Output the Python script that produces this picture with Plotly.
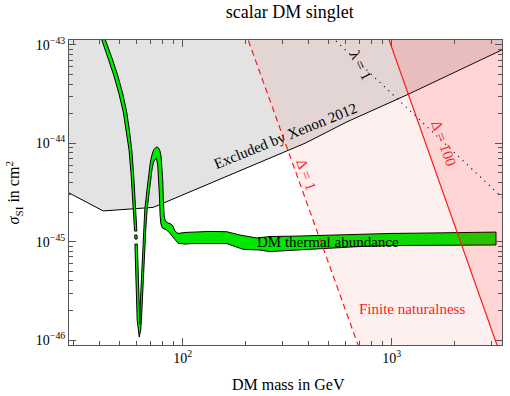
import math

import plotly.graph_objects as go

# axis limits: DM mass (GeV), sigma_SI (cm^2)
x_lim = [28.6, 3370]
y_lim = [8.9e-47, 1.12e-43]

# Xenon 2012 exclusion boundary (region above is excluded)
xenon_mass = [28, 41.7, 72.3, 210, 385, 611, 1183, 3500]
xenon_sigma = [3.2e-45, 2.05e-45, 2.23e-45, 5.87e-45, 1.0e-44, 1.65e-44, 3.1e-44, 9.24e-44]

# finite naturalness lines and lambda = 1
delta1_mass = [142, 1000]
delta1_sigma = [1e-42, 1e-47]
delta100_mass = [675, 4590]
delta100_sigma = [1e-42, 1e-47]
lambda1_mass = [179, 5000]
lambda1_sigma = [1e-42, 1.28e-45]

# DM thermal abundance band, (mass GeV, sigma in 1e-45 cm^2)
# piece above the small gap: right edge, left edge (top -> bottom)
band_a_upper = [(41.3, 142), (42.7, 112.4), (45.9, 73.8), (49.0, 48.4), (51.75, 31.7), (54.0, 20.8),
                (55.6, 13.65), (57.1, 8.55), (58.3, 4.76), (59.4, 2.65), (60.25, 1.48), (60.4, 1.28)]
band_a_lower = [(39.5, 142), (40.9, 112.4), (43.9, 73.8), (46.9, 48.4), (49.6, 31.7), (52.0, 20.8),
                (53.8, 13.65), (55.4, 8.55), (56.7, 4.76), (57.9, 2.65), (58.7, 1.48), (58.9, 1.28)]
band_dash = [(59.0, 1.167), (60.5, 1.167), (60.6, 1.063), (59.1, 1.063)]
# main piece: upper edge (left -> right), lower edge (right -> left)
band_b_upper = [(60.7, 0.945), (60.8, 0.821), (61.2, 0.514), (61.7, 0.255), (62.1, 0.179), (62.4, 0.145),
                (62.8, 0.255), (63.4, 0.407), (63.9, 0.650), (64.3, 0.821), (64.9, 1.31), (65.9, 2.10),
                (67.5, 3.35), (69.2, 5.35), (70.1, 6.45), (71.3, 7.60), (72.6, 8.55), (74.1, 9.00),
                (75.3, 9.17), (76.7, 8.96), (77.9, 8.35), (78.9, 7.25), (79.6, 6.01), (80.3, 4.23),
                (80.9, 2.65), (81.6, 1.82), (82.6, 1.62), (85.0, 1.55), (87.9, 1.51), (89.9, 1.44),
                (91.9, 1.28), (95.0, 1.21), (102.6, 1.24), (112, 1.25), (135.1, 1.27), (162.9, 1.26),
                (188, 1.167), (226.7, 1.088), (261.7, 1.127), (364.1, 1.14), (506.8, 1.167),
                (705.3, 1.195), (981.4, 1.21), (1366, 1.22), (1901, 1.24), (2645, 1.25), (3155, 1.25)]
band_b_lower = [(3155, 0.924), (2645, 0.924), (1901, 0.924), (1366, 0.917), (981.4, 0.913), (705.3, 0.892),
                (506.8, 0.861), (364.1, 0.821), (261.7, 0.793), (234.3, 0.821), (194.3, 0.835), (162.9, 0.956),
                (135.1, 0.961), (112, 0.956), (102.6, 0.945), (95.3, 0.961), (91.9, 1.05), (88.9, 1.167),
                (86.9, 1.22), (83.8, 1.31), (80.0, 1.375), (78.7, 1.51), (78.0, 1.87), (77.4, 2.98),
                (76.7, 4.76), (76.0, 6.01), (74.9, 7.00), (73.7, 6.84), (72.6, 6.45), (71.3, 5.35),
                (69.4, 3.35), (67.6, 2.10), (66.6, 1.31), (66.0, 0.821), (65.7, 0.650), (65.1, 0.407),
                (64.5, 0.255), (63.5, 0.159), (63.0, 0.126), (62.0, 0.107), (60.6, 0.159), (60.1, 0.255),
                (59.6, 0.514), (59.3, 0.821), (59.1, 0.945)]

x_ticks = [100, 1000]
x_ticktext = ["10<sup>2</sup>", "10<sup>3</sup>"]
y_ticks = [1e-46, 1e-45, 1e-44, 1e-43]
y_ticktext = ["10<sup>\u221246</sup>", "10<sup>\u221245</sup>", "10<sup>\u221244</sup>", "10<sup>\u221243</sup>"]

FONT = "Liberation Serif"
RED = "#ff1a1a"
sky = 1e-41
far_right = 1e4


def split(pts):
    return [p[0] for p in pts], [p[1] * 1e-45 for p in pts]


fig = go.Figure()

# excluded by Xenon 2012
fig.add_trace(go.Scatter(x=xenon_mass + [xenon_mass[-1], xenon_mass[0]],
                         y=xenon_sigma + [sky, sky], fill="toself", fillcolor="#e3e3e3",
                         line=dict(width=0), mode="lines", hoverinfo="skip"))
fig.add_trace(go.Scatter(x=xenon_mass, y=xenon_sigma, mode="lines",
                         line=dict(color="black", width=1)))

# thermal abundance band
for pts in (band_a_upper + band_a_lower[::-1], band_dash, band_b_upper + band_b_lower):
    bx, by = split(pts)
    fig.add_trace(go.Scatter(x=bx + [bx[0]], y=by + [by[0]], fill="toself", fillcolor="#00e800",
                             mode="lines", line=dict(color="black", width=1)))

# finite naturalness shading
fig.add_trace(go.Scatter(x=delta1_mass + [far_right, far_right], y=delta1_sigma + [delta1_sigma[1], delta1_sigma[0]],
                         fill="toself", fillcolor="rgba(255,0,0,0.06)", line=dict(width=0), mode="lines"))
fig.add_trace(go.Scatter(x=delta100_mass + [far_right, far_right],
                         y=delta100_sigma + [delta100_sigma[1], delta100_sigma[0]],
                         fill="toself", fillcolor="rgba(255,0,0,0.11)", line=dict(width=0), mode="lines"))
fig.add_trace(go.Scatter(x=delta1_mass, y=delta1_sigma, mode="lines",
                         line=dict(color=RED, width=1.2, dash="6px,4px")))
fig.add_trace(go.Scatter(x=delta100_mass, y=delta100_sigma, mode="lines",
                         line=dict(color=RED, width=1.2)))
fig.add_trace(go.Scatter(x=lambda1_mass, y=lambda1_sigma, mode="lines",
                         line=dict(color="black", width=1.2, dash="1px,5px")))


def lx(m):
    return math.log10(m)


labels = [
    ("Excluded by Xenon 2012", 310, 1.19e-44, -22, "black", 15),
    ("DM thermal abundance", 496, 0.99e-45, 0, "black", 15),
    ("Finite naturalness", 1250, 2.06e-46, 0, RED, 15),
    ("\u0394 = 1", 391, 4.76e-45, 70, RED, 15),
    ("\u0394 = 100", 1769, 1.0e-44, 70, RED, 15),
    ("\u03bb = 1", 713, 6.11e-44, 63, "black", 15),
]
for text, m, s, ang, col, size in labels:
    fig.add_annotation(x=lx(m), y=lx(s), text=text, textangle=ang, showarrow=False,
                       font=dict(family=FONT, size=size, color=col), xanchor="center", yanchor="middle")

fig.add_annotation(xref="paper", yref="paper", x=-0.127, y=0.497, text="<i>\u03c3</i><sub>SI</sub> in cm<sup>2</sup>",
                   textangle=-90, showarrow=False, font=dict(family=FONT, size=16),
                   xanchor="center", yanchor="middle")
fig.add_annotation(xref="paper", yref="paper", x=0.508, y=-0.131, text="DM mass in GeV",
                   showarrow=False, font=dict(family=FONT, size=16), xanchor="center", yanchor="middle")

x_minor = [k * 10 ** e for e in (1, 2, 3) for k in range(2, 10) if x_lim[0] <= k * 10 ** e <= x_lim[1]]
y_minor = [k * 10.0 ** e for e in (-47, -46, -45, -44) for k in range(2, 10)]

axis_common = dict(type="log", showgrid=False, zeroline=False, showline=True, linecolor="#555555",
                   linewidth=1, mirror="allticks", ticks="inside", ticklen=7, tickcolor="#555555",
                   tickfont=dict(family=FONT, size=14, color="black"))
fig.update_xaxes(range=[lx(x_lim[0]), lx(x_lim[1])], tickmode="array", tickvals=x_ticks, ticktext=x_ticktext,
                 minor=dict(tickmode="array", tickvals=x_minor, ticks="inside", ticklen=4, tickcolor="#555555"),
                 **axis_common)
fig.update_yaxes(range=[lx(y_lim[0]), lx(y_lim[1])], tickmode="array", tickvals=y_ticks, ticktext=y_ticktext,
                 minor=dict(tickmode="array", tickvals=y_minor, ticks="inside", ticklen=4, tickcolor="#555555"),
                 **axis_common)

fig.update_layout(
    width=510, height=396,
    margin=dict(l=69, r=8, t=40, b=51),
    paper_bgcolor="white", plot_bgcolor="white",
    showlegend=False,
    font=dict(family=FONT, size=14, color="black"),
    title=dict(text="scalar DM singlet", x=0.51, xref="paper", y=1 - 12 / 396, yref="container",
               xanchor="center", yanchor="middle", font=dict(family=FONT, size=18)),
)

fig.write_html("out.html", config={"displayModeBar": False},
               post_script="document.body.style.margin='0px';")
